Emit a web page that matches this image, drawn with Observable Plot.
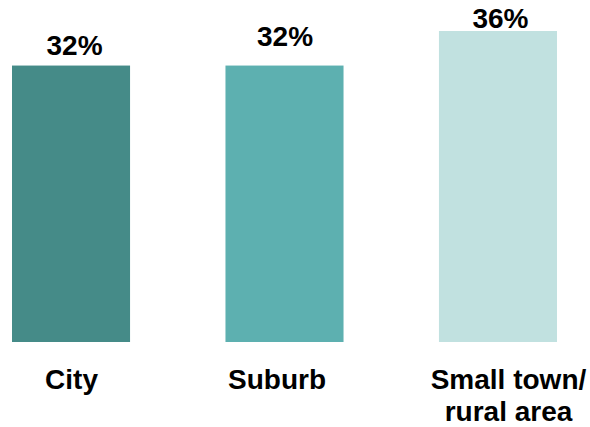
<!DOCTYPE html>
<html>
<head>
<meta charset="utf-8">
<script src="https://cdn.jsdelivr.net/npm/d3@7"></script>
<script src="https://cdn.jsdelivr.net/npm/@observablehq/plot@0.6"></script>
<style>
  html, body { margin: 0; padding: 0; background: #fff; }
  #chart svg { display: block; }
</style>
</head>
<body>
<div id="chart"></div>
<script>
const categories = ["City", "Suburb", "Small town/\nrural area"];
const values = [32, 32, 36];
const valueLabels = ["32%", "32%", "36%"];

const palette = ["#458b88", "#5db0b0", "#c1e1e0"];
const valueDy = [-11, -20, -4];
const valueDx = [3, 0, 2];
const catDx = [0, -8, 10];

const data = categories.map((c, i) => ({category: c, value: values[i], label: valueLabels[i]}));

const font = "'Liberation Sans', Arial, Helvetica, sans-serif";

const chart = Plot.plot({
  width: 590,
  height: 427,
  marginTop: 31,
  marginBottom: 85,
  marginLeft: 12,
  marginRight: 33,
  style: {fontFamily: font, background: "#fff"},
  x: {domain: categories, paddingInner: 0.447, paddingOuter: 0, round: false, axis: null},
  y: {domain: [0, 36], axis: null},
  color: {domain: categories, range: palette},
  marks: [
    Plot.barY(data, {x: "category", y: "value", fill: "category"}),
    ...data.map((d, i) => Plot.text([d], {
      x: "category", y: "value", text: "label",
      dy: valueDy[i], dx: valueDx[i], lineAnchor: "bottom",
      fontSize: 28, fontWeight: "bold", fill: "#000"
    })),
    ...data.map((d, i) => Plot.text([d], {
      x: "category", y: 0, text: "category",
      dy: 24, dx: catDx[i], lineAnchor: "top", lineHeight: 1.13,
      fontSize: 28, fontWeight: "bold", fill: "#000"
    }))
  ]
});
document.getElementById("chart").appendChild(chart);
</script>
</body>
</html>
